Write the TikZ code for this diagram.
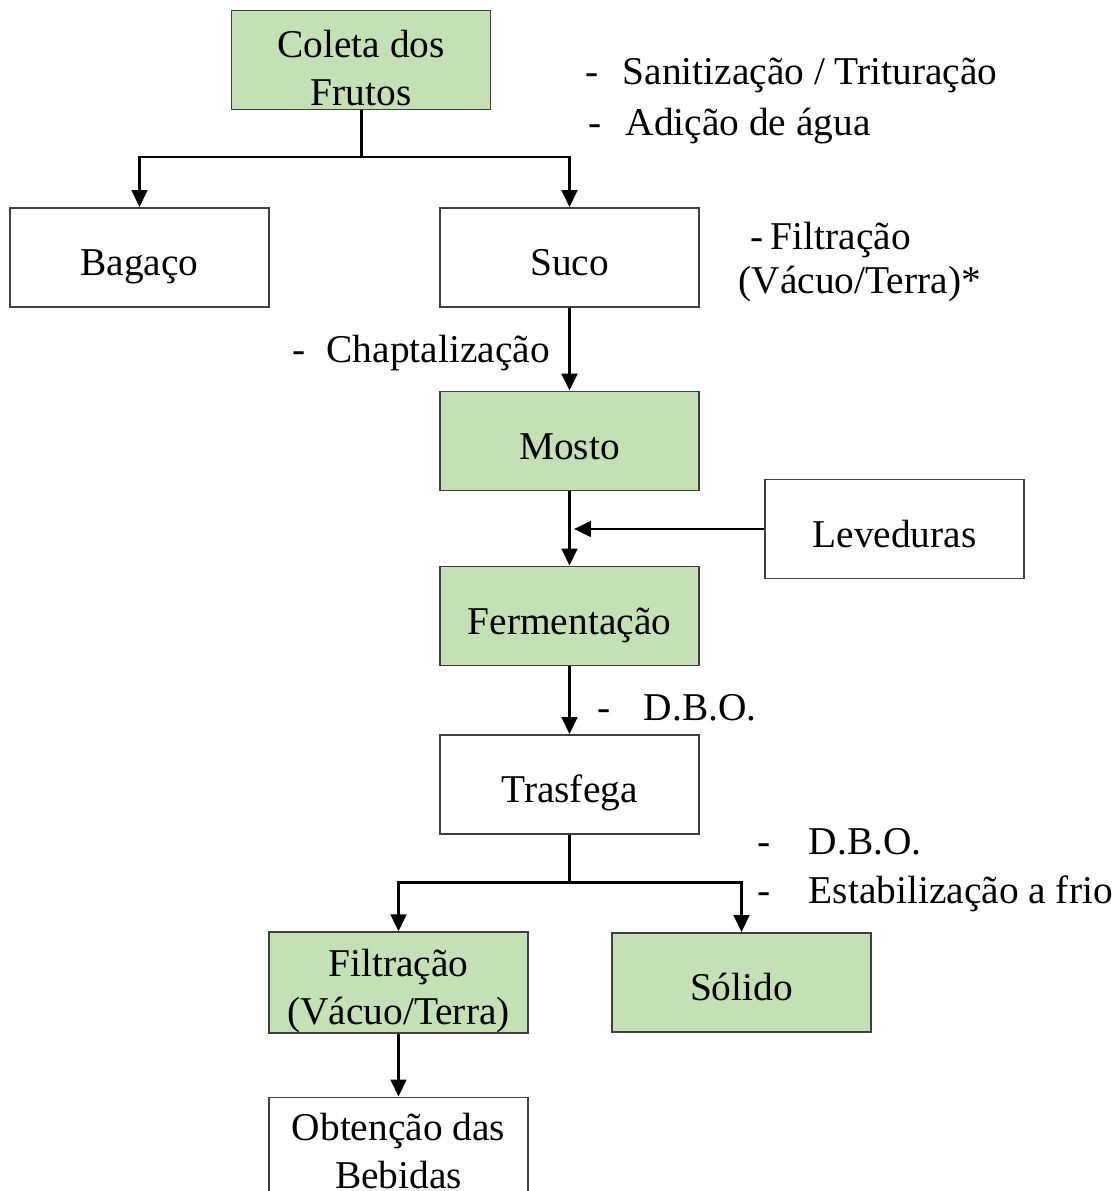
\documentclass[tikz,border=0pt]{standalone}
\usepackage{fontspec}
\setmainfont{Liberation Serif}
\usepackage{xcolor}
\usetikzlibrary{arrows.meta, positioning, calc}

\definecolor{verdeclaro}{HTML}{C5E0B4}
\newcommand{\traco}[1]{\makebox[#1][l]{-}}
\newcommand{\topo}[1][12.5pt]{\rule{0pt}{#1}}

\tikzset{
  etapa/.style={draw=black!75, line width=0.5pt, minimum width=2.59cm, minimum height=0.99cm,
    align=center, inner sep=0pt, font=\fontsize{11.2}{13.7}\selectfont},
  simples/.style={text height=10.4pt, text depth=0pt},
  verde/.style={etapa, fill=verdeclaro},
  branco/.style={etapa, fill=white},
  nota/.style={anchor=base west, inner sep=0pt, font=\fontsize{11.2}{13.7}\selectfont},
  linha/.style={line width=0.85pt},
  seta/.style={linha, -{Triangle[length=4.8pt,width=4.4pt]}}
}

\begin{document}
\begin{tikzpicture}[x=0.01cm,y=-0.01cm]
\useasboundingbox (0,0) rectangle (1111,1191);

% etapas do processo
\node[verde] (coleta) at (361,60) {\topo Coleta dos\\Frutos};
\node[branco, simples] (bagaco) at (139.5,257.5) {Bagaço};
\node[branco, simples] (suco) at (569.5,257.5) {Suco};
\node[verde, simples] (mosto) at (569.5,441) {Mosto};
\node[branco, simples] (leveduras) at (894.5,529) {Leveduras};
\node[verde, simples] (fermentacao) at (569.5,616) {Fermentação};
\node[branco, simples] (trasfega) at (569.5,784.5) {Trasfega};
\node[verde] (filtracao) at (398.5,982.5) {\topo Filtração\\(Vácuo/Terra)};
\node[verde, simples] (solido) at (741.5,982.5) {Sólido};
\node[branco] (obtencao) at (398.5,1147) {\topo[10pt]Obtenção das\\Bebidas};

% observacoes
\node[nota] (sanit) at (585,85) {\traco{0.37cm}Sanitização / Trituração};
\node[nota] (adicao) at (588,136) {\traco{0.37cm}Adição de água};
\node[nota] (filt1) at (750,249) {\traco{0.2cm}Filtração};
\node[nota] (filt2) at (738,294) {(Vácuo/Terra)*};
\node[nota] (chapt) at (292,362) {\traco{0.34cm}Chaptalização};
\node[nota] (dbo1) at (597,720) {\traco{0.46cm}D.B.O.};
\node[nota] (dbo2) at (757,854) {\traco{0.51cm}D.B.O.};
\node[nota] (estab) at (757,903) {\traco{0.51cm}Estabilização a frio};

% ligacoes
\coordinate (j1) at (361,157);
\draw[linha] (coleta) -- (j1);
\draw[seta] (j1) -| (bagaco);
\draw[seta] (j1) -| (suco);
\draw[seta] (suco) -- (mosto);
\draw[seta] (mosto) -- (fermentacao);
\coordinate (lv) at (574,529);
\draw[seta] (leveduras) -- (lv);
\draw[seta] (fermentacao) -- (trasfega);
\coordinate (j2) at (569.5,882);
\draw[linha] (trasfega) -- (j2);
\draw[seta] (j2) -| (filtracao);
\draw[seta] (j2) -| (solido);
\draw[seta] (filtracao) -- (obtencao);
\end{tikzpicture}
\end{document}
